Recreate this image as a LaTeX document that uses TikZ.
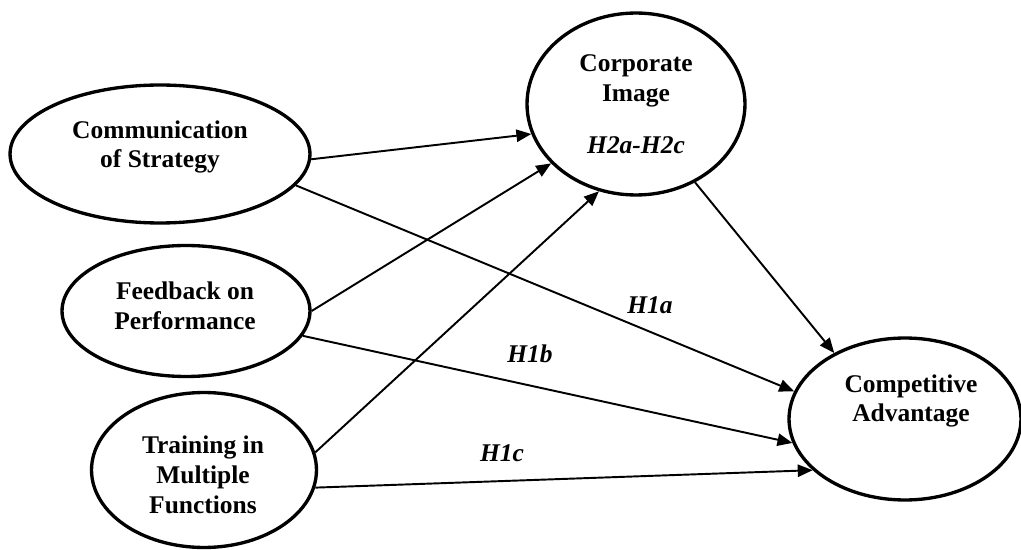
\documentclass[tikz,border=0pt]{standalone}
\usepackage{fontspec}
\setmainfont{Liberation Serif}
\usetikzlibrary{shapes.geometric,arrows.meta}

\begin{document}
\begin{tikzpicture}[x=0.02cm, y=-0.02cm,
  construct/.style={ellipse, draw, line width=1.9pt, inner sep=0pt},
  txt/.style={font=\fontsize{14.5}{17}\selectfont\bfseries, align=center},
  hyp/.style={font=\fontsize{14.5}{17}\selectfont\bfseries\itshape},
  link/.style={-{Triangle[length=8.5pt,width=7pt]}, line width=1.1pt}]
\useasboundingbox (0,0) rectangle (1021,550);

\node[construct, minimum width=6cm, minimum height=2.76cm] (comm) at (160,154) {};
\node[construct, minimum width=4.96cm, minimum height=2.62cm] (feed) at (186,311) {};
\node[construct, minimum width=4.5cm, minimum height=3.1cm] (train) at (204,470) {};
\node[construct, minimum width=4.36cm, minimum height=3.64cm] (image) at (636,104) {};
\node[construct, minimum width=4.64cm, minimum height=3.24cm] (adv) at (905,419) {};

\node[txt] (commtxt) at (160,147) {Communication\\of Strategy};
\node[txt] (feedtxt) at (185,306) {Feedback on\\Performance};
\node[txt] (traintxt) at (203,475) {Training in\\Multiple\\Functions};
\node[txt] (imagetxt) at (636,81) {Corporate\\Image};
\node[hyp] (h2) at (636,145) {H2a-H2c};
\node[txt] (advtxt) at (911,401) {Competitive\\Advantage};

\draw[link] (comm.-2.7) -- (image.-164.7);
\draw[link] (comm.-13.4) -- (adv.166.7);
\draw[link] (feed.0) -- (image.-145.5);
\draw[link] (feed.-12.8) -- (adv.-168.7);
\draw[link] (train.9.5) -- (image.-113.9);
\draw[link] (train.-9) -- (adv.-151);
\draw[link] (image.-53) -- (adv.137.6);

\node[hyp] (h1a) at (650,305) {H1a};
\node[hyp] (h1b) at (530,354) {H1b};
\node[hyp] (h1c) at (502,453) {H1c};
\end{tikzpicture}
\end{document}
